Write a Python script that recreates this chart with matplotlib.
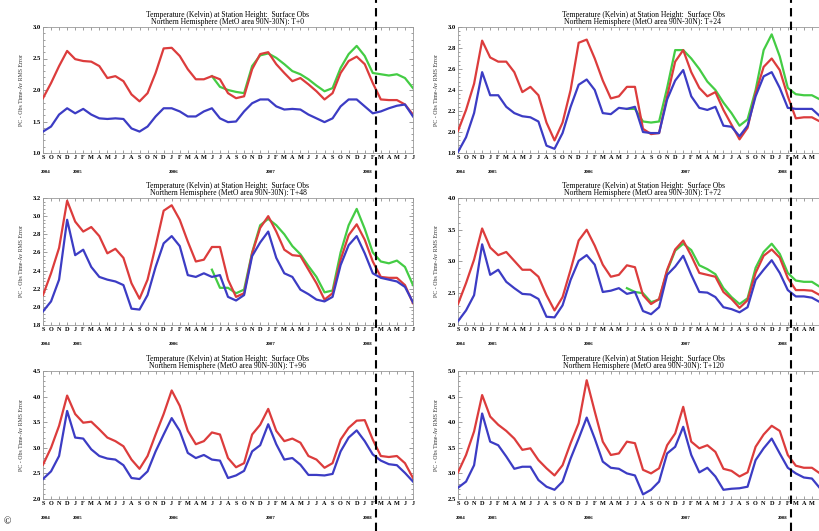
import numpy as np
import matplotlib
matplotlib.use("Agg")
import matplotlib.pyplot as plt
from matplotlib.lines import Line2D
from matplotlib.ticker import AutoMinorLocator
import matplotlib.transforms as mtransforms

plt.rcParams['font.family'] = ['Liberation Serif', 'DejaVu Serif']

# months from Sep 2004 to Jul 2008
months = ["S", "O", "N", "D"] + ["J", "F", "M", "A", "M", "J", "J", "A", "S", "O", "N", "D"] * 3 \
         + ["J", "F", "M", "A", "M", "J", "J"]
years = ["2004", "2005", "2006", "2007", "2008"]
year_pos = [0, 4, 16, 28, 40]
split_month = 41.4  # dashed line position

title1 = "Temperature (Kelvin) at Station Height:  Surface Obs"
leads = ["T+0", "T+24", "T+48", "T+72", "T+96", "T+120"]
ylabel = "PC - Obs Time-Av RMS Error"

# ---- T+0 ----
red_t0 = [1.87, 2.11, 2.38, 2.62, 2.49, 2.46, 2.45, 2.38, 2.19, 2.22, 2.14, 1.93, 1.82, 1.95, 2.27, 2.66,
          2.67, 2.54, 2.33, 2.17, 2.17, 2.22, 2.17, 1.95, 1.87, 1.90, 2.33, 2.57, 2.60, 2.41, 2.27, 2.14,
          2.19, 2.09, 1.98, 1.85, 1.95, 2.27, 2.46, 2.53, 2.41, 2.11, 1.85, 1.84, 1.84, 1.77, 1.61]
blue_t0 = [1.34, 1.42, 1.61, 1.71, 1.63, 1.70, 1.61, 1.55, 1.54, 1.55, 1.54, 1.39, 1.34, 1.42, 1.58, 1.71,
           1.71, 1.66, 1.58, 1.58, 1.66, 1.71, 1.55, 1.49, 1.50, 1.66, 1.79, 1.85, 1.85, 1.74, 1.69, 1.70,
           1.69, 1.61, 1.55, 1.49, 1.55, 1.74, 1.85, 1.85, 1.74, 1.63, 1.66, 1.71, 1.75, 1.77, 1.58]
green_t0 = [2.22, 2.05, 2.00, 1.97, 1.95, 2.38, 2.55, 2.58, 2.51, 2.41, 2.30, 2.25, 2.17, 2.07, 1.98, 2.03,
            2.35, 2.57, 2.70, 2.54, 2.27, 2.25, 2.23, 2.25, 2.19, 2.03]

# ---- T+24 ----
red_t24 = [2.01, 2.21, 2.46, 2.87, 2.71, 2.67, 2.67, 2.57, 2.38, 2.43, 2.35, 2.09, 1.92, 2.09, 2.40, 2.85,
           2.88, 2.70, 2.49, 2.32, 2.34, 2.43, 2.43, 2.03, 1.98, 1.99, 2.34, 2.67, 2.78, 2.57, 2.42, 2.34,
           2.38, 2.21, 2.07, 1.93, 2.04, 2.37, 2.62, 2.70, 2.59, 2.34, 2.13, 2.14, 2.14, 2.10, 2.05]
blue_t24 = [1.81, 1.95, 2.18, 2.57, 2.35, 2.35, 2.24, 2.18, 2.15, 2.14, 2.10, 1.87, 1.84, 1.99, 2.24, 2.45,
            2.50, 2.40, 2.18, 2.17, 2.23, 2.22, 2.24, 2.00, 1.99, 1.99, 2.31, 2.49, 2.59, 2.34, 2.23, 2.21,
            2.24, 2.06, 2.05, 1.96, 2.06, 2.34, 2.53, 2.57, 2.42, 2.23, 2.22, 2.22, 2.22, 2.15, 2.08]
green_t24 = [2.22, 2.22, 2.10, 2.09, 2.10, 2.42, 2.78, 2.78, 2.70, 2.60, 2.48, 2.40, 2.28, 2.18, 2.06, 2.12,
             2.40, 2.78, 2.93, 2.72, 2.42, 2.36, 2.35, 2.35, 2.31, 2.27]

# ---- T+48 ----
red_t48 = [2.13, 2.37, 2.65, 3.17, 2.94, 2.83, 2.88, 2.78, 2.59, 2.64, 2.54, 2.26, 2.09, 2.30, 2.67, 3.06,
           3.12, 2.96, 2.72, 2.50, 2.52, 2.66, 2.66, 2.30, 2.11, 2.15, 2.59, 2.87, 3.00, 2.83, 2.63, 2.57,
           2.56, 2.41, 2.26, 2.08, 2.15, 2.52, 2.79, 2.91, 2.74, 2.50, 2.33, 2.32, 2.32, 2.24, 2.04]
blue_t48 = [1.95, 2.06, 2.30, 2.96, 2.57, 2.63, 2.44, 2.33, 2.30, 2.28, 2.24, 1.98, 1.97, 2.13, 2.44, 2.70,
            2.78, 2.67, 2.35, 2.33, 2.37, 2.33, 2.35, 2.11, 2.07, 2.13, 2.56, 2.71, 2.83, 2.54, 2.37, 2.33,
            2.19, 2.14, 2.08, 2.06, 2.11, 2.46, 2.68, 2.78, 2.59, 2.37, 2.32, 2.30, 2.28, 2.22, 2.05]
green_t48 = [2.41, 2.21, 2.21, 2.15, 2.19, 2.60, 2.90, 2.97, 2.90, 2.80, 2.67, 2.58, 2.45, 2.33, 2.16, 2.18,
             2.60, 2.90, 3.08, 2.86, 2.60, 2.50, 2.48, 2.51, 2.44, 2.24]

# ---- T+72 ----
red_t72 = [2.33, 2.66, 3.03, 3.52, 3.22, 3.10, 3.15, 3.01, 2.87, 2.87, 2.76, 2.47, 2.23, 2.44, 2.87, 3.33,
           3.50, 3.25, 2.95, 2.76, 2.79, 2.94, 2.91, 2.47, 2.33, 2.41, 2.87, 3.19, 3.33, 3.09, 2.82, 2.79,
           2.76, 2.52, 2.41, 2.27, 2.39, 2.82, 3.09, 3.19, 3.06, 2.74, 2.55, 2.55, 2.54, 2.47, 2.40]
blue_t72 = [2.06, 2.23, 2.47, 3.27, 2.79, 2.87, 2.68, 2.58, 2.49, 2.48, 2.41, 2.13, 2.12, 2.31, 2.71, 3.01,
            3.10, 2.95, 2.52, 2.54, 2.58, 2.49, 2.52, 2.22, 2.17, 2.28, 2.79, 2.92, 3.09, 2.79, 2.52, 2.51,
            2.44, 2.28, 2.25, 2.20, 2.28, 2.71, 2.87, 3.02, 2.82, 2.55, 2.45, 2.45, 2.43, 2.36, 2.30]
green_t72 = [2.58, 2.52, 2.50, 2.36, 2.40, 2.85, 3.17, 3.28, 3.18, 2.94, 2.88, 2.80, 2.58, 2.44, 2.33, 2.42,
             2.90, 3.15, 3.28, 3.12, 2.82, 2.70, 2.68, 2.68, 2.60, 2.55]

# ---- T+96 ----
red_t96 = [2.67, 3.00, 3.43, 4.02, 3.66, 3.49, 3.51, 3.36, 3.20, 3.13, 3.03, 2.77, 2.59, 2.84, 3.26, 3.66,
           4.12, 3.82, 3.33, 3.07, 3.13, 3.30, 3.26, 2.80, 2.62, 2.70, 3.26, 3.45, 3.76, 3.33, 3.13, 3.18,
           3.10, 2.84, 2.77, 2.61, 2.70, 3.16, 3.39, 3.53, 3.54, 3.16, 2.84, 2.82, 2.84, 2.70, 2.41]
blue_t96 = [2.39, 2.54, 2.84, 3.72, 3.20, 3.18, 2.97, 2.84, 2.79, 2.77, 2.66, 2.41, 2.39, 2.54, 2.93, 3.26,
            3.58, 3.33, 2.90, 2.80, 2.86, 2.77, 2.75, 2.41, 2.46, 2.55, 2.93, 3.05, 3.46, 3.07, 2.77, 2.80,
            2.67, 2.47, 2.47, 2.46, 2.49, 2.93, 3.20, 3.34, 3.13, 2.87, 2.75, 2.68, 2.66, 2.51, 2.34]

# ---- T+120 ----
red_t120 = [3.02, 3.36, 3.82, 4.53, 4.11, 3.95, 3.83, 3.68, 3.46, 3.49, 3.26, 3.10, 2.96, 3.16, 3.59, 3.98,
            4.82, 4.21, 3.62, 3.36, 3.39, 3.62, 3.59, 3.07, 3.00, 3.10, 3.55, 3.78, 4.30, 3.62, 3.49, 3.55,
            3.42, 3.09, 3.05, 2.94, 3.02, 3.52, 3.76, 3.93, 3.83, 3.36, 3.15, 3.11, 3.11, 3.00, 2.90]
blue_t120 = [2.72, 2.84, 3.16, 4.17, 3.62, 3.55, 3.33, 3.09, 3.13, 3.13, 2.87, 2.74, 2.68, 2.84, 3.29, 3.68,
             4.09, 3.68, 3.23, 3.11, 3.09, 3.00, 2.96, 2.59, 2.68, 2.84, 3.39, 3.52, 3.91, 3.36, 3.02, 3.11,
             2.94, 2.68, 2.70, 2.71, 2.74, 3.26, 3.49, 3.68, 3.39, 3.11, 3.00, 2.92, 2.90, 2.71, 2.62]

green_start = 21

reds = [red_t0, red_t24, red_t48, red_t72, red_t96, red_t120]
blues = [blue_t0, blue_t24, blue_t48, blue_t72, blue_t96, blue_t120]
greens = [green_t0, green_t24, green_t48, green_t72, None, None]
ylims = [(1.0, 3.0), (1.8, 3.0), (1.8, 3.2), (2.0, 4.0), (2.0, 4.5), (2.5, 5.0)]
ysteps = [0.5, 0.2, 0.2, 0.5, 0.5, 0.5]

RED = "#dc3c3c"
BLUE = "#3c3cc4"
GREEN = "#44cc44"

W, H = 820, 531
fig = plt.figure(figsize=(W / 100, H / 100), dpi=100)

col_left = [43, 458]
ax_w = 370
rows = [(27, 153), (198, 325), (371, 499)]

axes = []
for i in range(6):
    r, c = divmod(i, 2)
    top, bot = rows[r]
    ax = fig.add_axes([col_left[c] / W, 1 - bot / H, ax_w / W, (bot - top) / H])
    axes.append(ax)
    x = np.arange(len(months))
    if greens[i] is not None:
        ax.plot(np.arange(green_start, len(months)), greens[i], color=GREEN, lw=1.6, zorder=2)
    ax.plot(x, reds[i], color=RED, lw=1.6, zorder=3)
    ax.plot(x, blues[i], color=BLUE, lw=1.6, zorder=4)

    ax.set_xlim(0, len(months) - 1)
    lo, hi = ylims[i]
    ax.set_ylim(lo, hi)
    ax.set_yticks(np.arange(lo, hi + 1e-6, ysteps[i]))
    ax.set_yticklabels(["%.1f" % v for v in np.arange(lo, hi + 1e-6, ysteps[i])],
                       fontsize=4.8, fontweight='bold')
    ax.yaxis.set_minor_locator(AutoMinorLocator(5))
    ax.set_xticks(x)
    # the right-hand column runs past the edge of the picture: keep only the labels that fit
    labels = months if c == 0 else months[:45] + [""] * (len(months) - 45)
    ax.set_xticklabels(labels, fontsize=4.5, fontweight='bold')
    ax.tick_params(axis='both', which='both', direction='in', top=True, right=True,
                   color='#777777', width=0.5, pad=1.5)
    ax.tick_params(axis='y', which='major', length=3)
    ax.tick_params(axis='y', which='minor', length=1.5)
    ax.tick_params(axis='x', length=2)
    for s in ax.spines.values():
        s.set_color('#999999')
        s.set_linewidth(0.6)

    trans = mtransforms.blended_transform_factory(ax.transData, ax.transAxes)
    for yr, p in zip(years, year_pos):
        ax.text(p + 0.3, -0.135, yr, transform=trans, fontsize=3.5, fontweight='bold',
                ha='center', va='top')

    ax.set_title(title1 + "\nNorthern Hemisphere (MetO area 90N-30N): " + leads[i],
                 fontsize=5.5, linespacing=0.9, pad=2)
    ax.set_ylabel(ylabel, fontsize=4.2, labelpad=6, color='#333333')

# dashed split line through the whole figure, one per column
for ax in axes[:2]:
    tr = mtransforms.blended_transform_factory(ax.transData, fig.transFigure)
    fig.add_artist(Line2D([split_month, split_month], [0, 1], transform=tr,
                          color='black', lw=1.5, linestyle=(0, (4, 2.5))))

fig.text(0.004, 0.008, "\u00a9", fontsize=7, ha='left', va='bottom')

fig.savefig("out.png", dpi=100)
